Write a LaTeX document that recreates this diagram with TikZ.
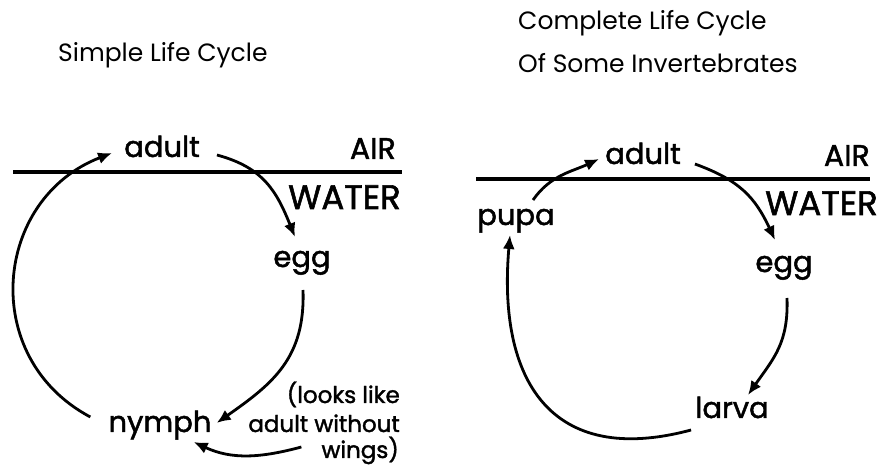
\documentclass[tikz,border=0pt]{standalone}
\usepackage{fontspec}
\setmainfont{Poppins}
\newfontfamily\lblfont[FakeBold=1.6]{Poppins}
\usetikzlibrary{arrows.meta}
\tikzset{
  lbl/.style={inner sep=0pt, anchor=base, font=\lblfont\fontsize{29}{32}\selectfont},
  caps/.style={inner sep=0pt, anchor=base east, font=\lblfont\fontsize{#1}{36}\selectfont},
  note/.style={inner sep=0pt, anchor=base east, font=\lblfont\fontsize{23}{26}\selectfont},
  ttl/.style={inner sep=0pt, anchor=base west, font=\fontsize{25}{28}\selectfont},
  surface/.style={line width=3.4pt},
  cyc/.style={line width=2.8pt, -{Latex[length=14pt,width=12pt]}},
}
\begin{document}
\begin{tikzpicture}[x=1pt,y=1pt]
\useasboundingbox (0,0) rectangle (882,470);
% titles
\node[ttl] (t1) at (58,408) {Simple Life Cycle};
\node[ttl] (t2) at (518,440) {Complete Life Cycle};
\node[ttl] (t3) at (518,397) {Of Some Invertebrates};
% ---------- left panel ----------
\coordinate (ls1) at (13,298);
\coordinate (ls2) at (402,298);
\draw[surface] (ls1) -- (ls2);
\node[lbl] (ladult) at (162,313) {adult};
\node[caps=30] (lair) at (396,311) {AIR};
\node[caps=34] (lwater) at (401,261) {WATER};
\node[lbl] (legg) at (302,203) {egg};
\node[lbl] (nymph) at (160,38) {nymph};
\node[note] (n1) at (400,67) {(looks like};
\node[note] (n2) at (400,38) {adult without};
\node[note] (n3) at (399,12) {wings)};
\draw[cyc] ([shift={(17,2)}]ladult.base east) to[out=-15,in=112,looseness=1.1] ([shift={(-7,30)}]legg.base);
\draw[cyc] ([shift={(1,-23)}]legg.base) to[out=-88,in=35,looseness=1.1] ([shift={(5,9)}]nymph.base east);
\draw[cyc] ([shift={(-18,15)}]nymph.base west) .. controls +(152:127) and +(201:127) .. ([shift={(-12,4)}]ladult.base west);
\draw[cyc] ([shift={(-20,11)}]n3.base west) to[out=195,in=-25,looseness=1] ([shift={(-18,-10)}]nymph.base east);
% ---------- right panel ----------
\coordinate (rs1) at (476,291);
\coordinate (rs2) at (870,291);
\draw[surface] (rs1) -- (rs2);
\node[lbl] (radult) at (643,306) {adult};
\node[caps=30] (rair) at (870,304) {AIR};
\node[caps=34] (rwater) at (878,255) {WATER};
\node[lbl] (pupa) at (516,245) {pupa};
\node[lbl] (regg) at (784,198) {egg};
\node[lbl] (larva) at (732,52) {larva};
\draw[cyc] ([shift={(17,25)}]pupa.base) to[out=55,in=205,looseness=1] ([shift={(-6,5)}]radult.base west);
\draw[cyc] ([shift={(14,0)}]radult.base east) to[out=-20,in=115,looseness=1.1] ([shift={(-9,32)}]regg.base);
\draw[cyc] ([shift={(3,-26)}]regg.base) to[out=-88,in=55,looseness=1.1] ([shift={(16,23)}]larva.base);
\draw[cyc] ([shift={(-4,-12)}]larva.base west) to[out=195,in=-95,looseness=1.4] ([shift={(-6,-10)}]pupa.base);
\end{tikzpicture}
\end{document}
